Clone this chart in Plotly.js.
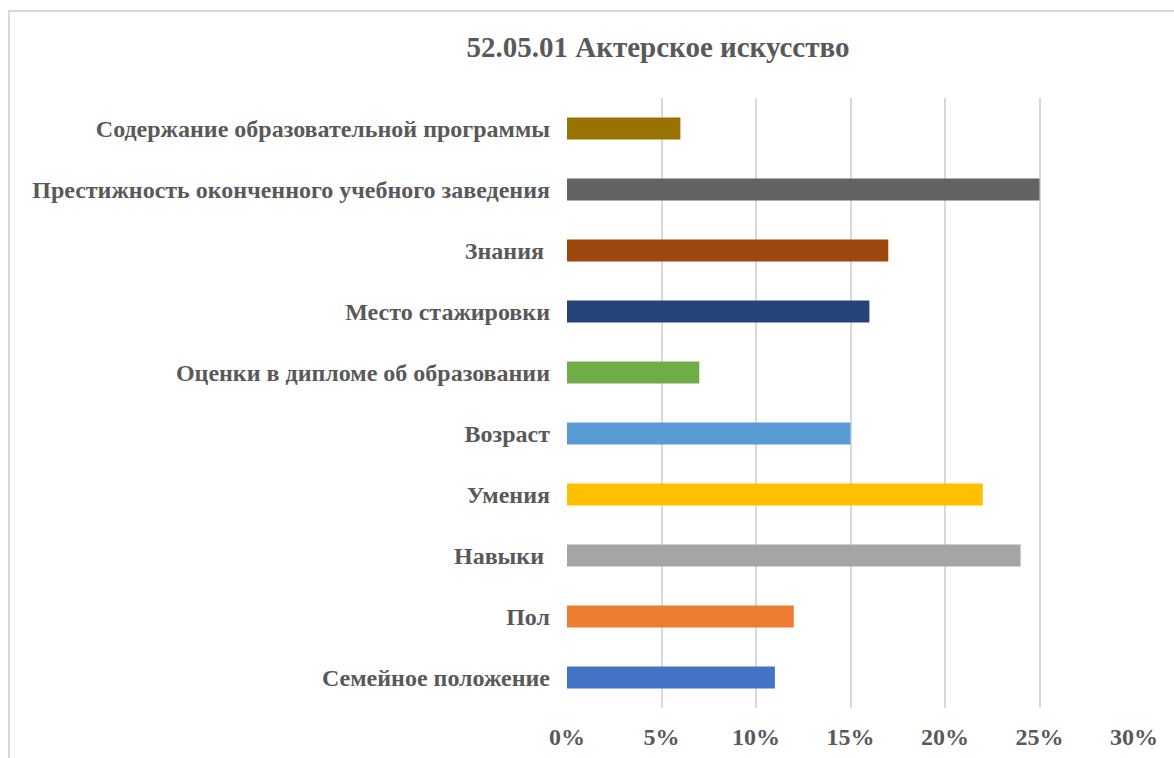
<!DOCTYPE html>
<html>
<head>
<meta charset="utf-8">
<script src="https://cdn.plot.ly/plotly-3.0.1.min.js"></script>
<style>html,body{margin:0;padding:0;background:#fff;}#chart{width:1174px;height:758px;}</style>
</head>
<body>
<div id="chart"></div>
<script>
// Categories listed bottom to top
const categories = [
  "Семейное положение",
  "Пол",
  "Навыки ",
  "Умения",
  "Возраст",
  "Оценки в дипломе об образовании",
  "Место стажировки",
  "Знания ",
  "Престижность оконченного учебного заведения",
  "Содержание образовательной программы"
];
const values = [0.11, 0.12, 0.24, 0.22, 0.15, 0.07, 0.16, 0.17, 0.25, 0.06];
const colors = ["#4472C4", "#ED7D31", "#A5A5A5", "#FFC000", "#5B9BD5", "#70AD47", "#264478", "#9E480E", "#636363", "#997300"];
const tickVals = [0, 0.05, 0.10, 0.15, 0.20, 0.25, 0.30];
const tickText = ["0%", "5%", "10%", "15%", "20%", "25%", "30%"];
const chartTitle = "52.05.01 Актерское искусство";

const font = "Liberation Serif";

const trace = {
  type: "bar",
  orientation: "h",
  x: values,
  y: categories,
  marker: {color: colors},
  width: 0.36,
  hoverinfo: "x+y"
};

const layout = {
  width: 1174,
  height: 758,
  paper_bgcolor: "#ffffff",
  plot_bgcolor: "#ffffff",
  margin: {l: 567, r: 40, t: 98, b: 50},
  showlegend: false,
  title: {
    text: "<b>" + chartTitle + "</b>",
    font: {family: font, size: 29, color: "#595959"},
    x: 658 / 1174, xref: "container", xanchor: "center",
    y: 1 - 47 / 758, yref: "container", yanchor: "middle"
  },
  xaxis: {
    range: [0, 0.30],
    tickvals: tickVals,
    ticktext: tickText,
    tickfont: {family: font, size: 24, color: "#595959", weight: "bold"},
    showgrid: true,
    gridcolor: "#D9D9D9",
    gridwidth: 2,
    zeroline: false,
    showline: false,
    ticks: "",
    ticklabelstandoff: 12,
    fixedrange: true
  },
  yaxis: {
    type: "category",
    categoryorder: "array",
    categoryarray: categories,
    range: [-0.5, 9.5],
    tickfont: {family: font, size: 24, color: "#595959", weight: "bold"},
    showgrid: false,
    zeroline: false,
    showline: false,
    ticks: "",
    ticklabelstandoff: 16,
    fixedrange: true
  },
  shapes: [
    {type: "rect", xref: "paper", yref: "paper",
     x0: (9 - 567) / 567, x1: (1180 - 567) / 567,
     y0: -0.2, y1: (708 - 11) / 610,
     line: {color: "#D9D9D9", width: 2}, fillcolor: "rgba(0,0,0,0)", layer: "below"}
  ]
};

Plotly.newPlot("chart", [trace], layout, {displayModeBar: false, staticPlot: true});
</script>
</body>
</html>
